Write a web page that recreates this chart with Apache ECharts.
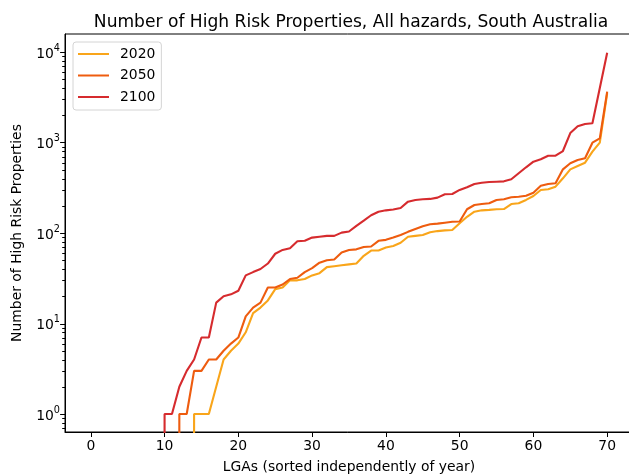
<!DOCTYPE html>
<html>
<head>
<meta charset="utf-8">
<script src="https://cdn.jsdelivr.net/npm/echarts@6/dist/echarts.min.js"></script>
<style>
  html, body { margin: 0; padding: 0; overflow: hidden; background: #fff; }
  #chart { width: 629px; height: 474px; }
</style>
</head>
<body>
<div id="chart"></div>
<script>
// LGAs, each year's counts sorted ascending on its own (index 0..70)
const lgaIndex = Array.from({ length: 71 }, (_, i) => i);

const props2020 = [
  0, 0, 0, 0, 0, 0, 0, 0, 0, 0,
  0, 0, 0, 0, 1, 1, 1, 2, 4, 5,
  6, 8, 13, 15, 18, 24, 25, 30, 30, 31,
  34, 36, 42, 43, 44, 45, 46, 56, 64, 64,
  69, 72, 78, 91, 93, 95, 102, 105, 107, 108,
  128, 151, 172, 178, 180, 183, 184, 209, 213, 232,
  256, 299, 304, 325, 402, 505, 550, 598, 791, 995,
  3500
];

const props2050 = [
  0, 0, 0, 0, 0, 0, 0, 0, 0, 0,
  0, 0, 1, 1, 3, 3, 4, 4, 5, 6,
  7, 12, 15, 17, 25, 25, 27, 31, 32, 37,
  41, 47, 50, 51, 61, 65, 66, 70, 71, 82,
  84, 89, 95, 103, 111, 119, 125, 127, 130, 133,
  134, 183, 204, 209, 213, 232, 236, 248, 252, 258,
  279, 333, 348, 354, 505, 589, 641, 669, 995, 1112,
  3650
];

const props2100 = [
  0, 0, 0, 0, 0, 0, 0, 0, 0, 0,
  1, 1, 2, 3, 4, 7, 7, 17, 20, 21,
  23, 34, 37, 40, 46, 59, 65, 68, 81, 82,
  89, 91, 93, 93, 101, 104, 120, 137, 157, 172,
  178, 182, 189, 222, 232, 236, 238, 246, 268, 270,
  299, 320, 348, 359, 366, 369, 372, 392, 457, 532,
  614, 652, 714, 714, 805, 1270, 1510, 1600, 1630, 4000,
  9800
];

const seriesNames = ['2020', '2050', '2100'];
const seriesColors = ['#f9a51a', '#ee5c0f', '#d62b2e'];

const xTickValues = [0, 10, 20, 30, 40, 50, 60, 70];
const yMajorTicks = [1, 10, 100, 1000, 10000];
const yMinorTicks = [];
for (let k = -1; k <= 3; k++) {
  for (let m = 2; m <= 9; m++) yMinorTicks.push(m * Math.pow(10, k));
}

const X_MIN = -3.5, X_MAX = 73.5;
const Y_MIN = 0.633, Y_MAX = 15800;
const FONT = 'DejaVu Sans';

// zero counts cannot sit on a log axis: clamp them far below the view so the
// line drops straight out of the plot, as log plots usually do
const logFloor = v => (v > 0 ? v : 1e-300);

const allSeries = [props2020, props2050, props2100];

const lineSeries = allSeries.map((vals, s) => ({
  name: seriesNames[s],
  type: 'line',
  showSymbol: false,
  symbol: 'none',
  clip: true,
  color: seriesColors[s],
  lineStyle: { width: 2.1, color: seriesColors[s] },
  data: lgaIndex.map(i => [i, logFloor(vals[i])])
}));

// y-axis tick marks (major and minor) placed through the log scale
const yTickSeries = {
  type: 'custom',
  silent: true,
  clip: false,
  z: 5,
  encode: { x: 0, y: 1 },
  data: yMajorTicks.map(v => [X_MIN, v, 4.9]).concat(yMinorTicks.filter(v => v >= Y_MIN && v <= Y_MAX).map(v => [X_MIN, v, 2.8])),
  renderItem: (params, api) => {
    const p = api.coord([api.value(0), api.value(1)]);
    const len = api.value(2);
    return {
      type: 'line',
      shape: { x1: p[0] - len, y1: Math.round(p[1]) + 0.5, x2: p[0], y2: Math.round(p[1]) + 0.5 },
      style: { stroke: '#000', lineWidth: 1 }
    };
  }
};

const chart = echarts.init(document.getElementById('chart'), null, { renderer: 'canvas' });

chart.setOption({
  animation: false,
  backgroundColor: '#fff',
  title: {
    text: 'Number of High Risk Properties, All hazards, South Australia',
    left: 346,
    top: 9,
    textAlign: 'center',
    textStyle: { fontFamily: FONT, fontSize: 17.1, fontWeight: 'normal', color: '#000' }
  },
  legend: {
    orient: 'vertical',
    left: 73,
    top: 42,
    data: seriesNames,
    icon: 'rect',
    itemWidth: 31,
    itemHeight: 2,
    itemGap: 5.5,
    padding: [4, 6, 5, 5],
    borderColor: '#d4d4d4',
    borderWidth: 1,
    borderRadius: 3,
    backgroundColor: 'rgba(255,255,255,0.8)',
    textStyle: { fontFamily: FONT, fontSize: 13.9, color: '#000', lineHeight: 16, padding: [0, 0, 0, 6] }
  },
  grid: {
    left: 65, right: -4, top: 34, bottom: 42,
    outerBoundsMode: 'none',
    containLabel: false,
    show: true, borderColor: '#000', borderWidth: 1, backgroundColor: 'transparent'
  },
  xAxis: {
    type: 'value',
    min: X_MIN,
    max: X_MAX,
    name: 'LGAs (sorted independently of year)',
    nameLocation: 'middle',
    nameGap: 28,
    nameTextStyle: { fontFamily: FONT, fontSize: 13.9, color: '#000' },
    axisLine: { show: true, onZero: false, lineStyle: { color: '#000', width: 1 } },
    splitLine: { show: false },
    axisTick: { show: true, customValues: xTickValues, length: 5, lineStyle: { color: '#000', width: 1 } },
    axisLabel: { customValues: xTickValues, margin: 7, fontFamily: FONT, fontSize: 13.9, color: '#000' }
  },
  yAxis: {
    type: 'log',
    logBase: 10,
    min: Y_MIN,
    max: Y_MAX,
    name: 'Number of High Risk Properties',
    nameLocation: 'middle',
    nameGap: 41,
    nameTextStyle: { fontFamily: FONT, fontSize: 13.9, color: '#000' },
    axisLine: { show: true, onZero: false, lineStyle: { color: '#000', width: 1 } },
    splitLine: { show: false },
    axisTick: { show: false },
    axisLabel: {
      margin: 5,
      showMinLabel: false,
      showMaxLabel: false,
      formatter: v => {
        const e = Math.log10(v);
        const r = Math.round(e);
        if (Math.abs(e - r) > 1e-6) return '';
        return '{b|10}{s|' + r + '}';
      },
      rich: {
        b: { fontFamily: FONT, fontSize: 13.9, color: '#000', lineHeight: 18, verticalAlign: 'bottom' },
        s: { fontFamily: FONT, fontSize: 9.7, color: '#000', lineHeight: 12, verticalAlign: 'top' }
      }
    }
  },
  series: lineSeries.concat([yTickSeries])
});
</script>
</body>
</html>
